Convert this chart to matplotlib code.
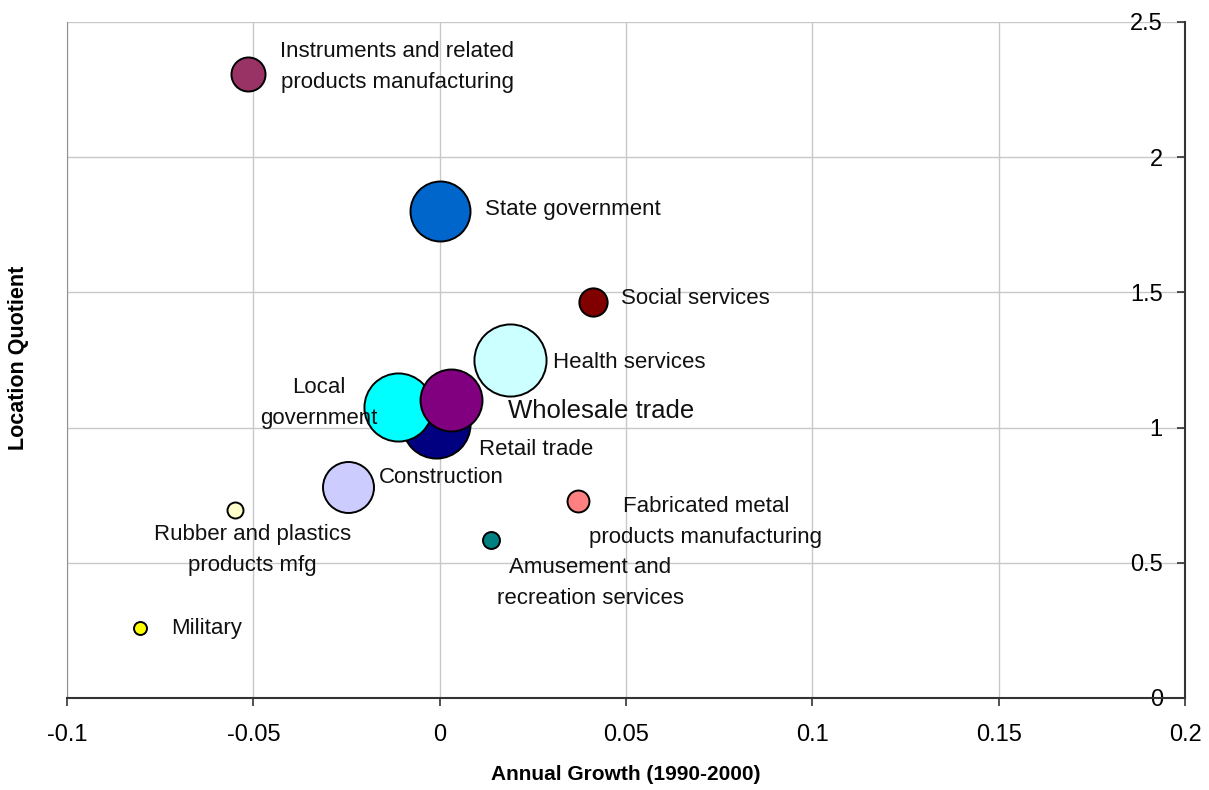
import matplotlib.pyplot as plt

# industry bubbles: annual growth 1990-2000 vs location quotient
industries = ["Retail trade", "Local\ngovernment", "Wholesale trade",
              "Instruments and related\nproducts manufacturing", "State government",
              "Social services", "Health services", "Construction",
              "Rubber and plastics\nproducts mfg", "Military",
              "Fabricated metal\nproducts manufacturing",
              "Amusement and\nrecreation services"]
growth = [-0.001, -0.0112, 0.0030, -0.0514, 0.0002, 0.0411, 0.0189, -0.0245,
          -0.0549, -0.0804, 0.0371, 0.0138]
lq = [1.013, 1.076, 1.102, 2.308, 1.801, 1.464, 1.250, 0.780,
      0.695, 0.259, 0.729, 0.584]
employment = [11.6, 11.6, 9.6, 2.9, 9.0, 2.0, 13.0, 6.5, 0.64, 0.42, 1.2, 0.72]
colors = ["#000080", "#00FFFF", "#800080", "#993366", "#0066CC", "#800000",
          "#CCFFFF", "#CCCCFF", "#FFFFCC", "#FFFF00", "#FF8080", "#008080"]

# label placement (offset in pixels from the bubble centre, alignment)
offsets = [(43, -25), (-20, 4), (57, -11), (149, 7), (45, 2), (28, 4),
           (43, -3), (31, 10), (17, -40), (31, -1), (128, -21), (99, -43)]
aligns = ["left", "right", "left", "center", "left", "left", "left", "left",
          "center", "left", "center", "center"]

narrow = ["Liberation Sans Narrow", "Liberation Sans", "DejaVu Sans"]
plt.rcParams["font.family"] = narrow

fig = plt.figure(figsize=(12.09, 7.9), dpi=100)
ax = fig.add_axes([67 / 1209, 92 / 790, 1118 / 1209, 676 / 790])

scale = 2.0736 * 100  # bubble area in points^2 per unit of employment
for i in range(len(industries)):
    ax.scatter(growth[i], lq[i], s=employment[i] * scale, c=colors[i],
               edgecolors="black", linewidths=1.4, zorder=3 + i * 0.01)
    if industries[i] == "Wholesale trade":
        fs = 18.5
    else:
        fs = 16
    ax.annotate(industries[i], (growth[i], lq[i]), xytext=offsets[i],
                textcoords="offset pixels", ha=aligns[i], va="center",
                multialignment="center", fontsize=fs,
                linespacing=1.6, color="#111111", zorder=5)

ax.set_xlim(-0.1, 0.2)
ax.set_ylim(0, 2.5)
ax.set_xticks([-0.1, -0.05, 0, 0.05, 0.1, 0.15, 0.2])
ax.set_xticklabels(["-0.1", "-0.05", "0", "0.05", "0.1", "0.15", "0.2"])
ax.set_yticks([0, 0.5, 1, 1.5, 2, 2.5])
ax.set_yticklabels(["0", "0.5", "1", "1.5", "2", "2.5"])

ax.grid(True, color="#c8c8c8", linewidth=1)
ax.set_axisbelow(True)

ax.spines["top"].set_visible(False)
ax.spines["left"].set_color("#909090")
ax.spines["right"].set_color("#333333")
ax.spines["bottom"].set_color("#333333")
ax.spines["right"].set_linewidth(1.5)
ax.spines["bottom"].set_linewidth(1.5)

ax.tick_params(axis="x", direction="out", length=6, width=1.2,
               color="#333333", labelsize=17, pad=13)
ax.yaxis.set_ticks_position("right")
ax.tick_params(axis="y", direction="in", length=6, width=1.2,
               color="#333333", labelsize=17, pad=-16)
for lbl in ax.get_yticklabels():
    lbl.set_horizontalalignment("right")

fig.text(626 / 1209, 1 - 775 / 790, "Annual Growth (1990-2000)",
         fontsize=15, fontweight="bold", ha="center", va="center")
fig.text(19 / 1209, 1 - 358 / 790, "Location Quotient", rotation=90,
         fontsize=15.5, fontweight="bold", ha="center", va="center")

fig.savefig("out.png", dpi=100)
